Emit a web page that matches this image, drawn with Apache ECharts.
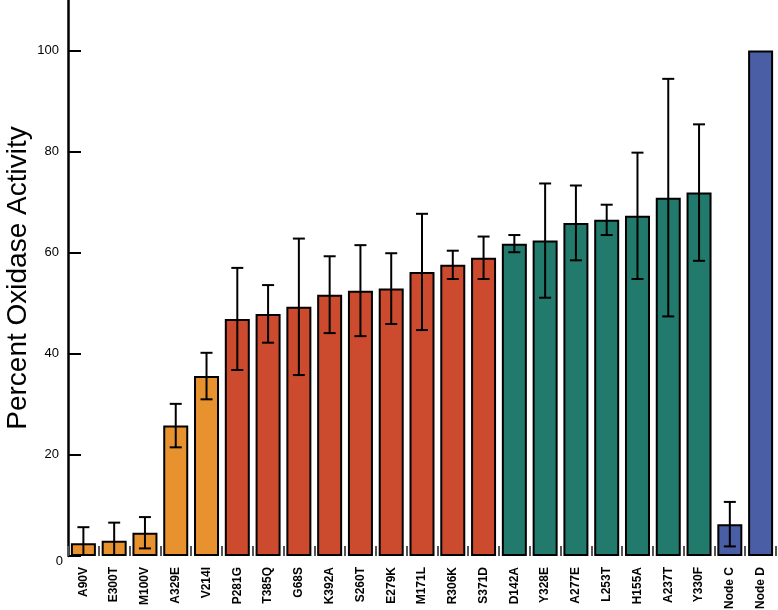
<!DOCTYPE html>
<html><head><meta charset="utf-8">
<script src="https://cdn.jsdelivr.net/npm/echarts@6/dist/echarts.min.js"></script>
<style>html,body{margin:0;padding:0;background:#fff}#c{width:778px;height:610px}</style>
</head><body><div id="c"></div>
<script>
var categories = ["A90V","E300T","M100V","A329E","V214I","P281G","T385Q","G68S","K392A","S260T","E279K","M171L","R306K","S371D","D142A","Y328E","A277E","L253T","H155A","A237T","Y330F","Node C","Node D"];
var values = [2.5,3.0,4.6,25.8,35.6,46.9,47.9,49.3,51.7,52.5,52.9,56.2,57.6,59.0,61.8,62.4,65.9,66.5,67.3,70.9,71.9,6.3,100];
var errors = [3.2,3.6,3.1,4.3,4.6,10.1,5.7,13.5,7.6,9.0,7.0,11.5,2.8,4.2,1.7,11.3,7.4,3.0,12.5,23.5,13.5,4.4,0];
var groups = [0,0,0,0,0,1,1,1,1,1,1,1,1,1,2,2,2,2,2,2,2,3,3];
var groupColors = ["#E8922F","#CC4A2E","#227A6C","#4A5EA6"];
var yTicks = [0,20,40,60,80,100];

var chart = echarts.init(document.getElementById('c'));
var barData = values.map(function(v,i){return {value:v,itemStyle:{color:groupColors[groups[i]]}};});
var errData = values.map(function(v,i){return [i, v-errors[i], v+errors[i]];});
chart.setOption({
  animation:false,
  grid:{left:68,right:2,top:0,bottom:54,containLabel:false,outerBoundsMode:'none'},
  xAxis:{type:'category',data:categories,
    axisLine:{show:false},
    axisTick:{show:true,inside:true,length:10,lineStyle:{color:'#555',width:2}},
    axisLabel:{rotate:90,interval:0,fontFamily:'Liberation Sans, Arial',fontWeight:'bold',fontSize:12,color:'#000',margin:11}},
  yAxis:{type:'value',min:0,max:110,interval:20,
    name:'Percent Oxidase Activity',nameLocation:'middle',nameGap:36,nameMoveOverlap:false,
    nameTextStyle:{fontFamily:'Liberation Sans, Arial',fontSize:28,color:'#000'},
    axisLine:{show:true,lineStyle:{color:'#000',width:2.5}},
    axisTick:{show:true,inside:true,length:13,lineStyle:{color:'#000',width:2}},
    axisLabel:{showMaxLabel:false,fontFamily:'Liberation Sans, Arial',fontSize:13,color:'#000',margin:5,
      formatter:function(v){
        if(yTicks.indexOf(v)<0) return '';
        return v===0 ? '{z|0}' : '{n|'+v+'}';
      },
      rich:{
        n:{fontFamily:'Liberation Sans, Arial',fontSize:13,color:'#000',padding:[0,4,0,0]},
        z:{fontFamily:'Liberation Sans, Arial',fontSize:13,color:'#000',padding:[10,0,0,0]}
      }},
    splitLine:{show:false}},
  series:[
    {type:'bar',data:barData,barWidth:25,z:3,
     itemStyle:{borderColor:'#000',borderWidth:2}},
    {type:'custom',data:errData,z:10,
     renderItem:function(params,api){
       var i=api.value(0);
       if(errors[i]<=0) return null;
       var lo=api.coord([i,Math.max(0,api.value(1))]);
       var hi=api.coord([i,api.value(2)]);
       var x=hi[0], hw=6;
       var st={stroke:'#000',lineWidth:2};
       var children=[
         {type:'line',shape:{x1:x,y1:hi[1],x2:x,y2:lo[1]},style:st},
         {type:'line',shape:{x1:x-hw,y1:hi[1],x2:x+hw,y2:hi[1]},style:st}];
       if(api.value(1)>0) children.push({type:'line',shape:{x1:x-hw,y1:lo[1],x2:x+hw,y2:lo[1]},style:st});
       return {type:'group',children:children};
     }}
  ]
});
</script></body></html>
